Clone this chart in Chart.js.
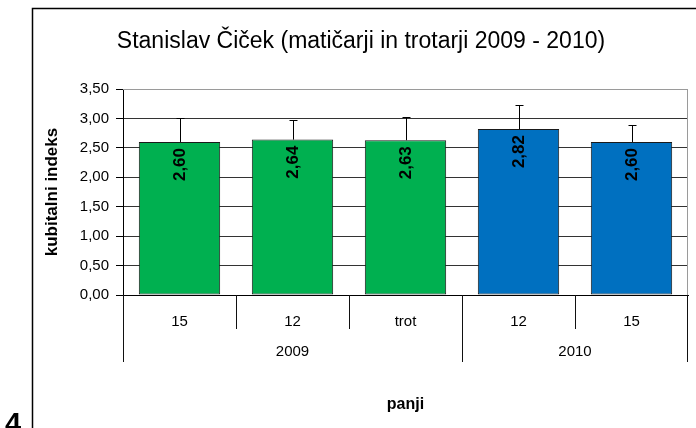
<!DOCTYPE html>
<html>
<head>
<meta charset="utf-8">
<script src="https://cdn.jsdelivr.net/npm/chart.js@4"></script>
<style>
  html, body { margin: 0; padding: 0; background: #fff; }
  #wrap { width: 696px; height: 428px; }
</style>
</head>
<body>
<div id="wrap"><canvas id="chart" width="696" height="428"></canvas></div>
<script>
// data
const categories = ['15', '12', 'trot', '12', '15'];
const years = [
  { label: '2009', from: 0, to: 2 },
  { label: '2010', from: 3, to: 4 }
];
const values = [2.60, 2.64, 2.63, 2.82, 2.60];
const errors = [0.40, 0.34, 0.39, 0.40, 0.28];
const barColors = ['#00B050', '#00B050', '#00B050', '#0070C0', '#0070C0'];
const yTicks = [0, 0.5, 1, 1.5, 2, 2.5, 3, 3.5];

const FONT = '"Liberation Sans", Arial, sans-serif';
const fmt = v => v.toFixed(2).replace('.', ',');

// error bars, labels in bars, two level x axis, frame and title
const extras = {
  id: 'extras',
  afterDatasetsDraw(chart) {
    const ctx = chart.ctx;
    const y = chart.scales.y;
    const meta = chart.getDatasetMeta(0);
    ctx.save();
    ctx.strokeStyle = '#000';
    ctx.lineWidth = 1;
    values.forEach((v, i) => {
      const px = Math.round(meta.data[i].x) + 0.5;
      const top = y.getPixelForValue(v);
      const end = Math.round(y.getPixelForValue(v + errors[i])) + 0.5;
      ctx.beginPath();
      ctx.moveTo(px, top);
      ctx.lineTo(px, end);
      ctx.moveTo(px - 4, end);
      ctx.lineTo(px + 4, end);
      ctx.stroke();
    });
    // values inside bars
    ctx.fillStyle = '#000';
    ctx.font = 'bold 17px ' + FONT;
    ctx.textAlign = 'right';
    ctx.textBaseline = 'middle';
    values.forEach((v, i) => {
      const bar = meta.data[i];
      ctx.save();
      ctx.translate(bar.x, y.getPixelForValue(v) + 6);
      ctx.rotate(-Math.PI / 2);
      ctx.fillText(fmt(v), 0, 1);
      ctx.restore();
    });
    ctx.restore();
  },
  afterDraw(chart) {
    const ctx = chart.ctx;
    const x = chart.scales.x;
    const area = chart.chartArea;
    ctx.save();
    // plot area border (top and right)
    ctx.strokeStyle = '#9a9a9a';
    ctx.lineWidth = 1;
    ctx.beginPath();
    ctx.moveTo(area.left, Math.round(area.top) + 0.5);
    ctx.lineTo(Math.round(area.right) - 0.5, Math.round(area.top) + 0.5);
    ctx.lineTo(Math.round(area.right) - 0.5, area.bottom);
    ctx.stroke();

    // category separators under the axis
    const edge = i => {
      if (i === 0) return area.left;
      if (i === categories.length) return area.right;
      return (x.getPixelForValue(i - 1) + x.getPixelForValue(i)) / 2;
    };
    const groupEdges = [0];
    years.forEach(g => groupEdges.push(g.to + 1));
    ctx.strokeStyle = '#111';
    for (let i = 0; i <= categories.length; i++) {
      const isGroup = groupEdges.includes(i);
      let px = Math.round(edge(i)) + 0.5;
      if (i === categories.length) px -= 1;
      ctx.beginPath();
      ctx.moveTo(px, area.bottom);
      ctx.lineTo(px, isGroup ? 362 : 329);
      ctx.stroke();
    }
    ctx.fillStyle = '#000';
    ctx.font = '15px ' + FONT;
    ctx.textAlign = 'center';
    ctx.textBaseline = 'middle';
    years.forEach(g => {
      const cx = (edge(g.from) + edge(g.to + 1)) / 2;
      ctx.fillText(g.label, cx, 352);
    });

    // title
    ctx.font = '23px ' + FONT;
    ctx.fillText('Stanislav Čiček (matičarji in trotarji 2009 - 2010)', 361, 42);

    // outer frame
    ctx.strokeStyle = '#000';
    ctx.lineWidth = 1.5;
    ctx.strokeRect(32.5, 8.5, 720, 500);

    // stray page number at the bottom left
    ctx.font = 'bold 29px ' + FONT;
    ctx.textAlign = 'left';
    ctx.textBaseline = 'alphabetic';
    ctx.fillText('4', 5, 433);
    ctx.restore();
  }
};

new Chart(document.getElementById('chart'), {
  type: 'bar',
  data: {
    labels: categories,
    datasets: [{
      data: values,
      backgroundColor: barColors,
      borderColor: '#1a1a1a',
      borderWidth: 1,
      borderSkipped: false,
      categoryPercentage: 1,
      barPercentage: 0.72
    }]
  },
  options: {
    responsive: false,
    animation: false,
    devicePixelRatio: 1,
    layout: { padding: { top: 89, right: 8, left: 0, bottom: 0 } },
    plugins: {
      legend: { display: false },
      tooltip: { enabled: false },
      title: { display: false }
    },
    scales: {
      x: {
        grid: { display: false, drawTicks: false },
        border: { display: true, color: '#000', width: 1 },
        ticks: { color: '#000', font: { family: FONT, size: 15 }, padding: 18 },
        title: {
          display: true, text: 'panji', color: '#000',
          font: { family: FONT, size: 16, weight: 'bold' },
          padding: { top: 0, bottom: 14 }
        },
        afterFit(scale) { scale.height = 133; }
      },
      y: {
        min: 0,
        max: 3.5,
        afterBuildTicks(scale) { scale.ticks = yTicks.map(v => ({ value: v })); },
        grid: {
          color: ctx => ctx.tick && ctx.tick.value === 3.5 ? '#9a9a9a' : '#333',
          tickColor: '#000',
          tickLength: 7
        },
        border: { display: true, color: '#000', width: 1 },
        ticks: {
          color: '#000',
          font: { family: FONT, size: 15 },
          padding: 7,
          callback: v => fmt(v)
        },
        title: {
          display: true, text: 'kubitalni indeks', color: '#000',
          font: { family: FONT, size: 17, weight: 'bold' },
          padding: { top: 42, bottom: 0 }
        },
        afterFit(scale) { scale.width = 123; }
      }
    }
  },
  plugins: [extras]
});
</script>
</body>
</html>
